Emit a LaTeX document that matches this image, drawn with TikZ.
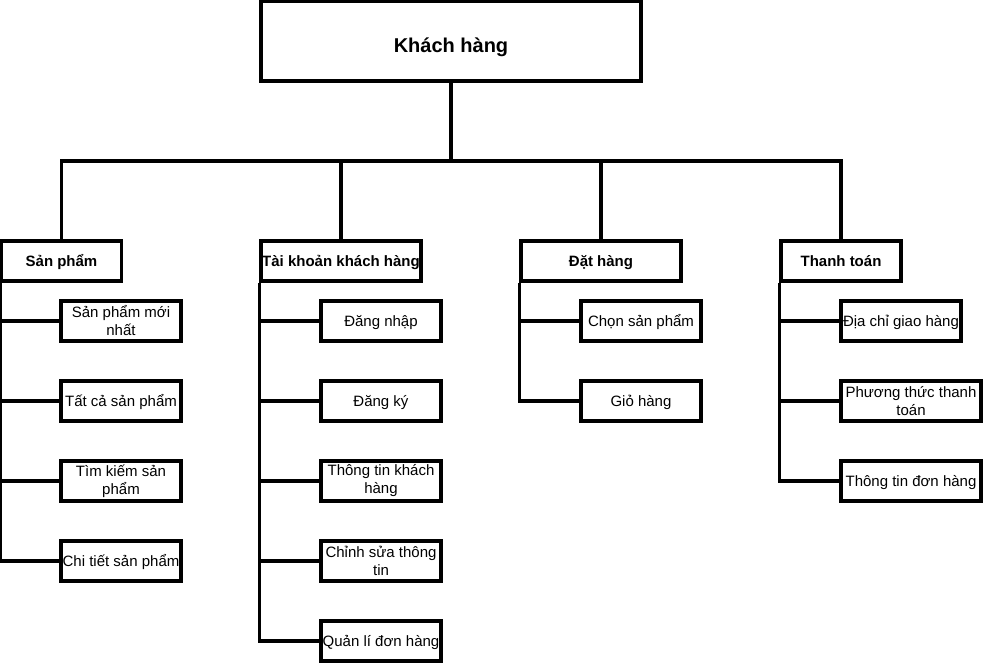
\documentclass[tikz,border=0pt]{standalone}
\usepackage{fontspec}
\setmainfont{Liberation Sans}
\usetikzlibrary{positioning}
\tikzset{
  rootbox/.style={draw=black,line width=3.2pt,minimum width=380pt,minimum height=80pt,
                  font=\fontsize{20}{24}\selectfont\bfseries,inner sep=0pt,
                  text height=24pt,text depth=0pt},
  catbox/.style={draw=black,line width=3.2pt,minimum height=40pt,
                 font=\fontsize{15}{18}\selectfont\bfseries,inner sep=0pt,
                 text height=12pt,text depth=0pt},
  leafbox/.style={draw=black,line width=3.2pt,minimum width=120pt,minimum height=40pt,
                  font=\fontsize{15}{18}\selectfont,inner sep=0pt,
                  text height=12pt,text depth=1pt},
  leafboxii/.style={leafbox,align=center,text height=,text depth=},
  link/.style={draw=black,line width=3.2pt},
}
\begin{document}
\begin{tikzpicture}[x=1pt,y=-1pt]
  \useasboundingbox (0,0) rectangle (983,663);

  \node[rootbox] (root) at (451,41) {Khách hàng};
  \coordinate (bus) at (451,161);

  % nhóm chức năng
  \node[catbox,minimum width=120pt] (sp)  at (61.5,261)  {Sản phẩm};
  \node[catbox,minimum width=160pt] (tk)  at (341,261) {Tài khoản khách hàng};
  \node[catbox,minimum width=160pt] (dh)  at (601,261) {Đặt hàng};
  \node[catbox,minimum width=120pt] (tt)  at (841,261) {Thanh toán};

  % Sản phẩm
  \node[leafboxii] (sp1) at (121,321) {Sản phẩm mới\\nhất};
  \node[leafbox]   (sp2) at (121,401) {Tất cả sản phẩm};
  \node[leafboxii] (sp3) at (121,481) {Tìm kiếm sản\\phẩm};
  \node[leafbox]   (sp4) at (121,561) {Chi tiết sản phẩm};

  % Tài khoản khách hàng
  \node[leafbox]   (tk1) at (381,321) {Đăng nhập};
  \node[leafbox]   (tk2) at (381,401) {Đăng ký};
  \node[leafboxii] (tk3) at (381,481) {Thông tin khách\\hàng};
  \node[leafboxii] (tk4) at (381,561) {Chỉnh sửa thông\\tin};
  \node[leafbox]   (tk5) at (381,641) {Quản lí đơn hàng};

  % Đặt hàng
  \node[leafbox] (dh1) at (641,321) {Chọn sản phẩm};
  \node[leafbox] (dh2) at (641,401) {Giỏ hàng};

  % Thanh toán (hai ô dưới rộng hơn)
  \node[leafbox]                      (tt1) at (901,321) {Địa chỉ giao hàng};
  \node[leafboxii,minimum width=140pt] (tt2) at (911,401) {Phương thức thanh\\toán};
  \node[leafbox,minimum width=140pt]   (tt3) at (911,481) {Thông tin đơn hàng};

  % thanh ngang chung
  \draw[link] (root.south) -- (bus);
  \draw[link] (sp.north) |- (bus);
  \draw[link] (tk.north) |- (bus);
  \draw[link] (dh.north) |- (bus);
  \draw[link] (tt.north) |- (bus);

  % nhánh dọc bên trái mỗi nhóm
  \draw[link] (sp.south west) |- (sp1.west);
  \draw[link] (sp.south west) |- (sp2.west);
  \draw[link] (sp.south west) |- (sp3.west);
  \draw[link] (sp.south west) |- (sp4.west);

  \draw[link] (tk.south west) |- (tk1.west);
  \draw[link] (tk.south west) |- (tk2.west);
  \draw[link] (tk.south west) |- (tk3.west);
  \draw[link] (tk.south west) |- (tk4.west);
  \draw[link] (tk.south west) |- (tk5.west);

  \draw[link] (dh.south west) |- (dh1.west);
  \draw[link] (dh.south west) |- (dh2.west);

  \draw[link] (tt.south west) |- (tt1.west);
  \draw[link] (tt.south west) |- (tt2.west);
  \draw[link] (tt.south west) |- (tt3.west);
\end{tikzpicture}
\end{document}
